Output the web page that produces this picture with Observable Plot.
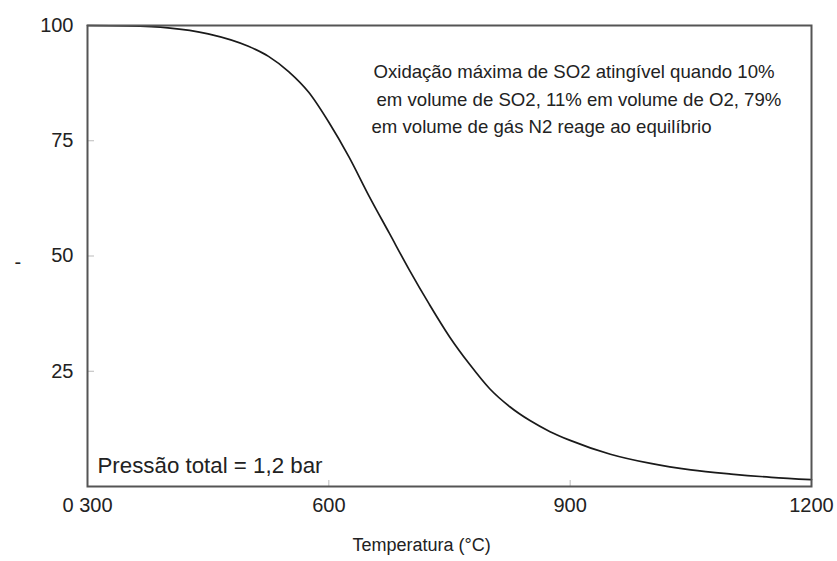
<!DOCTYPE html>
<html><head><meta charset="utf-8">
<script src="https://cdn.jsdelivr.net/npm/d3@7"></script>
<script src="https://cdn.jsdelivr.net/npm/@observablehq/plot@0.6"></script>
<style>body{margin:0;background:#fff} svg{display:block}</style>
</head><body><div id="chart"></div>
<script>
const temperatures = [300, 350, 400, 450, 500, 525, 550, 575, 600, 625, 650, 675, 700, 725, 750, 775, 800, 825, 850, 875, 900, 950, 1000, 1050, 1100, 1150, 1200];
const conversion   = [100, 99.9, 99.5, 98.2, 95.5, 93.3, 90, 85.5, 79, 71.5, 63, 55, 47, 39.5, 32.5, 26.5, 21.2, 17.3, 14.3, 11.9, 10, 7, 5, 3.6, 2.7, 2, 1.5];
const xTicks = [300, 600, 900, 1200];
const xTickLabels = ["0 300", "600", "900", "1200"];
const yTicks = [25, 50, 75, 100];
const xLabel = "Temperatura (°C)";
const yLabel = "-";
const noteLines = [
  "Oxidação máxima de SO2 atingível quando 10%",
  "em volume de SO2, 11% em volume de O2, 79%",
  "em volume de gás N2 reage ao equilíbrio"
];
const pressureNote = "Pressão total = 1,2 bar";

const data = temperatures.map((t, i) => ({t, v: conversion[i]}));
const W = 837, H = 561, mL = 87, mR = 26, mT = 25, mB = 75;
const fw = W - mL - mR, fh = H - mT - mB;
const noteDx = [286, 289, 284];
const noteDy = [47, 75, 102];

const chart = Plot.plot({
  width: W, height: H,
  marginLeft: mL, marginRight: mR, marginTop: mT, marginBottom: mB,
  style: {fontFamily: '"Liberation Sans", Arial, sans-serif', background: "#fff", color: "#222"},
  x: {domain: [300, 1200]},
  y: {domain: [0, 100]},
  marks: [
    Plot.tickY(yTicks.slice(0, 3), {y: d => d, stroke: "#bbb", strokeWidth: 1, insetRight: fw - 7}),
    Plot.tickX(xTicks.slice(1, 3), {x: d => d, stroke: "#bbb", strokeWidth: 1, insetTop: fh - 6}),
    Plot.line(data, {x: "t", y: "v", stroke: "#1a1a1a", strokeWidth: 1.7, curve: "monotone-x"}),
    Plot.frame({stroke: "#555", strokeWidth: 2}),
    Plot.axisY({ticks: yTicks, tickSize: 0, tickPadding: 14, fontSize: 20, label: null}),
    Plot.axisX({ticks: xTicks, tickFormat: d => xTickLabels[xTicks.indexOf(d)], tickSize: 0, tickPadding: 11, fontSize: 20, label: null}),
    Plot.text([xLabel], {text: d => d, frameAnchor: "bottom", dx: -28, dy: 64, fontSize: 18, fill: "#222"}),
    Plot.text([yLabel], {text: d => d, frameAnchor: "left", dx: -73, dy: 7, fontSize: 20, fill: "#222"}),
    ...noteLines.map((line, i) => Plot.text([line], {text: d => d, frameAnchor: "top-left", dx: noteDx[i], dy: noteDy[i], textAnchor: "start", lineAnchor: "middle", fontSize: 18.6, fill: "#222"})),
    Plot.text([pressureNote], {text: d => d, frameAnchor: "bottom-left", dx: 10, dy: -21, textAnchor: "start", lineAnchor: "middle", fontSize: 22.3, fill: "#222"})
  ]
});
document.getElementById("chart").appendChild(chart);
</script>
</body></html>
